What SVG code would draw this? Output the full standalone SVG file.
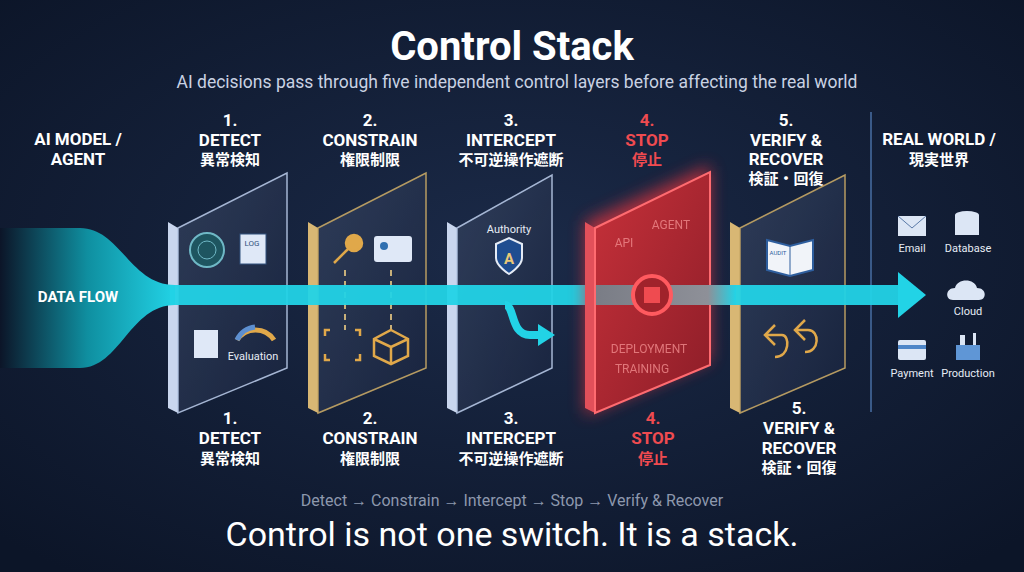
<svg xmlns="http://www.w3.org/2000/svg" width="1024" height="572" viewBox="0 0 1024 572">
<defs>
<radialGradient id="bg" cx="50%" cy="45%" r="70%"><stop offset="0" stop-color="#1b2a48"/><stop offset="1" stop-color="#0c1528"/></radialGradient>
<linearGradient id="funnel" x1="0" x2="1"><stop offset="0" stop-color="#0c1528"/><stop offset="0.5" stop-color="#0f8fa0"/><stop offset="1" stop-color="#22d3e6"/></linearGradient>
<linearGradient id="glass" x1="0" y1="0" x2="1" y2="1"><stop offset="0" stop-color="#34425e" stop-opacity="0.9"/><stop offset="1" stop-color="#1a2540" stop-opacity="0.85"/></linearGradient>
<linearGradient id="red" x1="0" y1="0" x2="1" y2="1"><stop offset="0" stop-color="#c7313a"/><stop offset="1" stop-color="#8c1d28"/></linearGradient>
<linearGradient id="grey" x1="0" x2="1"><stop offset="0" stop-color="#7a7d86"/><stop offset="0.8" stop-color="#8e9098"/><stop offset="1" stop-color="#22d3e6"/></linearGradient>
<filter id="glow" x="-30%" y="-30%" width="160%" height="160%"><feGaussianBlur stdDeviation="8"/></filter>
<style>
text{font-family:Roboto,"Liberation Sans","Noto Sans CJK JP",sans-serif;fill:#fff;text-anchor:middle}
.h{font-size:17px;font-weight:bold}
.j{font-size:15px;font-weight:bold;font-family:"Noto Sans CJK JP",sans-serif}
.r{fill:#ef4b50}
.s{font-size:11px;fill:#e6ecf5}
.rl{font-size:12px;fill:#f08a8c;opacity:.8}
.ic{fill:none;stroke:#e0a84a;stroke-width:2.5}
</style>
</defs>
<rect width="1024" height="572" fill="url(#bg)"/>
<text x="512" y="60" font-size="40" font-weight="bold">Control Stack</text>
<text x="517" y="88" font-size="17.5" style="fill:#c9d2e3">AI decisions pass through five independent control layers before affecting the real world</text>
<line x1="871" y1="112" x2="871" y2="412" stroke="#3a5a88" stroke-width="2"/>

<g id="p1">
<path d="M168 222 L178 228 L178 413 L168 408 Z" fill="#c9d6ee"/>
<path d="M178 228 L287 173 L287 368 L178 413 Z" fill="url(#glass)" stroke="#b5c6e4" stroke-width="1.5" opacity="0.9"/>
<circle cx="207" cy="250" r="17" fill="#1e5560" stroke="#6fb8c6" stroke-width="2"/>
<circle cx="207" cy="250" r="9" fill="none" stroke="#6fb8c6" stroke-width="1"/>
<rect x="240" y="234" width="26" height="30" fill="#dfe8f7" stroke="#33527e"/>
<text x="252" y="246" font-size="8" style="fill:#33527e">LOG</text>
<rect x="194" y="330" width="24" height="28" fill="#dfe8f7"/>
<path d="M237 340 A22 22 0 0 1 274 340" fill="none" stroke="#e0a84a" stroke-width="5"/>
<path d="M237 340 A22 22 0 0 1 255 327" fill="none" stroke="#5d8fd0" stroke-width="5"/>
<text x="253" y="360" class="s">Evaluation</text>
</g>
<g id="p2">
<path d="M308 222 L318 228 L318 413 L308 408 Z" fill="#d8b774"/>
<path d="M318 228 L426 173 L426 368 L318 413 Z" fill="url(#glass)" stroke="#c7a866" stroke-width="1.5" opacity="0.9"/>
<circle cx="354" cy="243" r="8" class="ic" style="fill:#e0a84a"/><path d="M348 249 L334 263" class="ic"/>
<rect x="374" y="236" width="38" height="26" rx="3" fill="#dfe8f7"/><circle cx="384" cy="246" r="4" fill="#2f6fb0"/>
<path d="M345 270 V330 M391 270 V330" stroke="#c8b07a" stroke-dasharray="6 5" stroke-width="2"/>
<path d="M330 330 h-5 v6 M355 330 h5 v6 M330 360 h-5 v-6 M355 360 h5 v-6" class="ic" stroke-width="2"/>
<path d="M391 330 L408 339 V356 L391 364 L374 356 V339 Z M374 339 L391 347 L408 339 M391 347 V364" class="ic" stroke-width="2"/>
</g>
<g id="p3">
<path d="M447 222 L457 228 L457 413 L447 408 Z" fill="#c9d6ee"/>
<path d="M457 228 L552 175 L552 368 L457 413 Z" fill="url(#glass)" stroke="#b5c6e4" stroke-width="1.5" opacity="0.9"/>
<text x="509" y="233" class="s">Authority</text>
<path d="M496 244 L509 238 L522 244 V258 C522 266 509 274 509 274 C509 274 496 266 496 258 Z" fill="#1f4d90" stroke="#e5ebf5" stroke-width="2"/>
<text x="509" y="264" font-size="15" font-weight="bold" style="fill:#e9c878">A</text>
<path d="M505 305 C515 305 510 335 530 335 H540" fill="none" stroke="#22d3e6" stroke-width="8"/>
<path d="M538 324 L555 335 L538 346 Z" fill="#22d3e6"/>
</g>
<g id="p5">
<path d="M730 222 L740 228 L740 413 L730 408 Z" fill="#d8b774"/>
<path d="M740 228 L845 175 L845 368 L740 413 Z" fill="url(#glass)" stroke="#c7a866" stroke-width="1.5" opacity="0.9"/>
<path d="M767 240 L790 246 L813 240 V270 L790 276 L767 270 Z" fill="#f1f4f9" stroke="#2e5e9e" stroke-width="2"/>
<path d="M790 246 V276" stroke="#2e5e9e"/>
<text x="778" y="255" font-size="6" style="fill:#2e5e9e">AUDIT</text>
<path d="M775 325 L765 335 L775 345 M765 335 H782 C790 335 790 357 775 357" class="ic" stroke-width="5"/>
<path d="M805 320 L795 330 L805 340 M795 330 H808 C820 330 820 352 805 352" class="ic" stroke-width="5"/>
</g>

<g id="flow">
<path d="M0 228 H80 C120 228 130 285 175 285 V305 C130 305 120 368 80 368 H0 Z" fill="url(#funnel)"/>
<rect x="170" y="285" width="735" height="20" fill="#22d3e6" opacity="0.95"/>
<path d="M898 272 L926 295 L898 318 Z" fill="#22d3e6"/>
<text x="78" y="302" font-size="15" font-weight="bold">DATA FLOW</text>
</g>

<g id="p4">
<path d="M585 222 L710 165 L710 360 L585 415 Z" fill="#e8353d" filter="url(#glow)" opacity="0.7"/>
<path d="M585 222 L595 228 L595 413 L585 408 Z" fill="#e2505a"/>
<path d="M595 228 L710 172 L710 365 L595 413 Z" fill="url(#red)" stroke="#ff6b70" stroke-width="2"/>
<rect x="596" y="285" width="140" height="20" fill="url(#grey)"/>
<text x="671" y="229" class="rl">AGENT</text>
<text x="624" y="247" class="rl">API</text>
<text x="649" y="353" class="rl">DEPLOYMENT</text>
<text x="642" y="373" class="rl">TRAINING</text>
<circle cx="652" cy="295" r="19" fill="#a0232b" stroke="#ff5a5f" stroke-width="4"/>
<rect x="644" y="287" width="16" height="16" fill="#ef4b50"/>
</g>

<g id="labels">
<text x="78" y="145" class="h">AI MODEL /</text><text x="78" y="165" class="h">AGENT</text>
<text x="230" y="126" class="h">1.</text><text x="230" y="146" class="h">DETECT</text><text x="230" y="165" class="j">異常検知</text>
<text x="370" y="126" class="h">2.</text><text x="370" y="146" class="h">CONSTRAIN</text><text x="370" y="165" class="j">権限制限</text>
<text x="511" y="126" class="h">3.</text><text x="511" y="146" class="h">INTERCEPT</text><text x="511" y="165" class="j">不可逆操作遮断</text>
<text x="647" y="126" class="h r">4.</text><text x="647" y="146" class="h r">STOP</text><text x="647" y="165" class="j r">停止</text>
<text x="786" y="126" class="h">5.</text><text x="786" y="146" class="h">VERIFY &amp;</text><text x="786" y="165" class="h">RECOVER</text><text x="786" y="184" class="j">検証・回復</text>
<text x="939" y="145" class="h">REAL WORLD /</text><text x="939" y="165" class="j">現実世界</text>
<text x="230" y="424" class="h">1.</text><text x="230" y="444" class="h">DETECT</text><text x="230" y="464" class="j">異常検知</text>
<text x="370" y="424" class="h">2.</text><text x="370" y="444" class="h">CONSTRAIN</text><text x="370" y="464" class="j">権限制限</text>
<text x="511" y="424" class="h">3.</text><text x="511" y="444" class="h">INTERCEPT</text><text x="511" y="464" class="j">不可逆操作遮断</text>
<text x="653" y="424" class="h r">4.</text><text x="653" y="444" class="h r">STOP</text><text x="653" y="464" class="j r">停止</text>
<text x="799" y="414" class="h">5.</text><text x="799" y="434" class="h">VERIFY &amp;</text><text x="799" y="454" class="h">RECOVER</text><text x="799" y="473" class="j">検証・回復</text>
</g>

<g id="world">
<rect x="898" y="216" width="28" height="20" fill="#dce6f5"/><path d="M898 216 L912 228 L926 216" fill="none" stroke="#5a7aa8"/>
<text x="912" y="252" class="s">Email</text>
<ellipse cx="967" cy="215" rx="12" ry="4" fill="#dce6f5"/><rect x="955" y="215" width="24" height="20" fill="#dce6f5"/>
<text x="968" y="252" class="s">Database</text>
<path d="M953 300 C945 300 945 288 955 288 C957 278 975 278 977 288 C987 288 987 300 979 300 Z" fill="#dce6f5"/>
<text x="968" y="315" class="s">Cloud</text>
<rect x="898" y="340" width="28" height="20" rx="2" fill="#dce6f5"/><rect x="898" y="345" width="28" height="4" fill="#4e86c8"/>
<text x="912" y="377" class="s">Payment</text>
<rect x="956" y="345" width="24" height="15" fill="#5f96d6"/><rect x="960" y="335" width="5" height="10" fill="#dce6f5"/><rect x="973" y="333" width="3" height="12" fill="#dce6f5"/>
<text x="968" y="377" class="s">Production</text>
</g>

<text x="512" y="506" font-size="16" style="fill:#8d98ad">Detect → Constrain → Intercept → Stop → Verify &amp; Recover</text>
<text x="512" y="546" font-size="34" font-family="'Noto Sans',sans-serif">Control is not one switch. It is a stack.</text>
</svg>
